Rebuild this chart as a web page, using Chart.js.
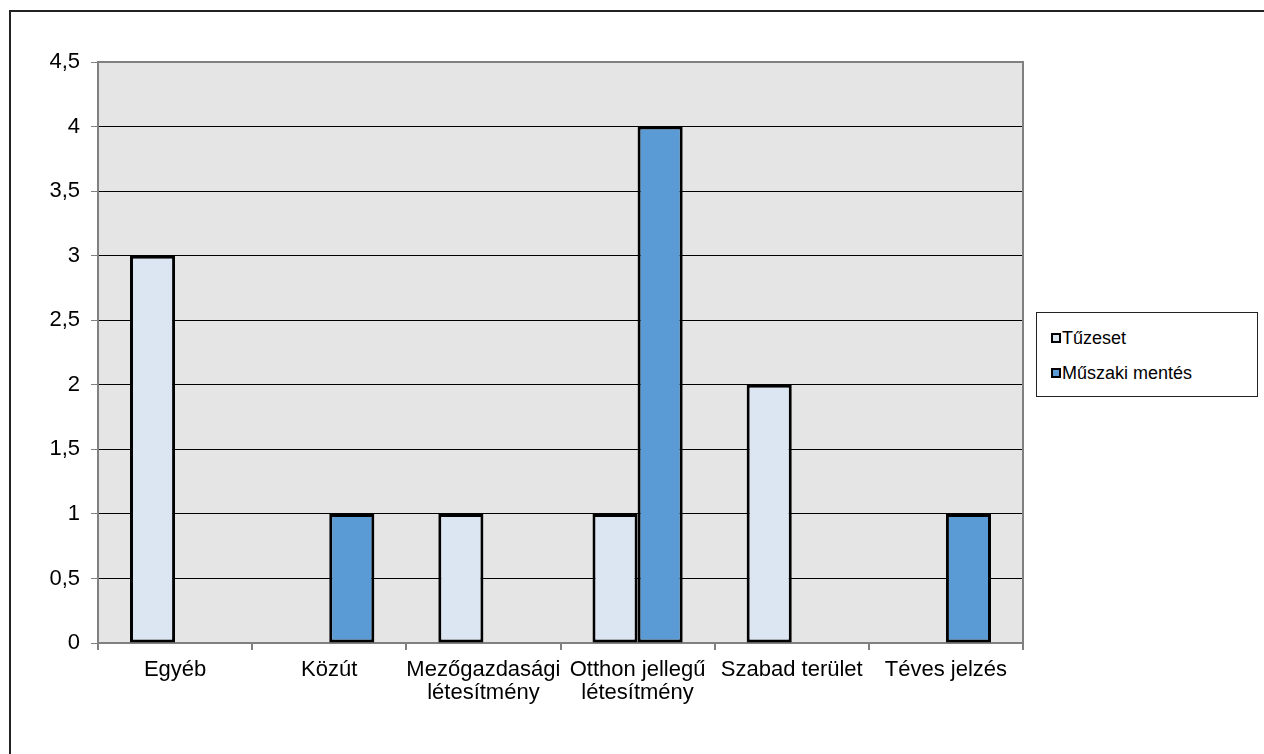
<!DOCTYPE html>
<html>
<head>
<meta charset="utf-8">
<script src="https://cdn.jsdelivr.net/npm/chart.js@4/dist/chart.umd.min.js"></script>
<style>
  body { margin: 0; background: #fff; }
  #wrap { position: relative; width: 1264px; height: 754px; overflow: hidden; }
  #frame { position: absolute; left: 9px; top: 10px; width: 1300px; height: 800px; border-left: 2px solid #222; border-top: 2px solid #222; box-sizing: border-box; }
  #legend { position: absolute; left: 1036px; top: 312px; width: 222px; height: 85px; border: 1px solid #222; box-sizing: border-box; font-family: "Liberation Sans", Arial, sans-serif; font-size: 18px; color: #000; background: #fff; }
  .item { position: absolute; left: 14px; display: flex; align-items: center; line-height: 20px; }
  .sw { width: 6px; height: 6px; border: 2px solid #000; margin-right: 1px; }
</style>
</head>
<body>
<div id="wrap">
  <canvas id="chart" width="1264" height="754"></canvas>
  <div id="frame"></div>
  <div id="legend"></div>
</div>
<script>
// adatok
var categories = ["Egyéb", "Közút", ["Mezőgazdasági", "létesítmény"], ["Otthon jellegű", "létesítmény"], "Szabad terület", "Téves jelzés"];
var tuzeset = [3, null, 1, 1, 2, null];
var muszaki = [null, 1, null, 4, null, 1];
var seriesNames = ["Tűzeset", "Műszaki mentés"];
var seriesColors = ["#dce6f2", "#5b9bd5"];

// szürke háttér + felső/jobb keret
var plotBg = {
    id: 'plotBg',
    beforeDraw: function (chart) {
        var a = chart.chartArea, ctx = chart.ctx;
        ctx.save();
        ctx.fillStyle = '#e5e5e5';
        ctx.fillRect(a.left, a.top, a.right - a.left, a.bottom - a.top);
        ctx.restore();
    },
    afterDraw: function (chart) {
        var a = chart.chartArea, ctx = chart.ctx;
        ctx.save();
        ctx.strokeStyle = '#808080';
        ctx.lineWidth = 2;
        ctx.beginPath();
        ctx.moveTo(a.left, a.top);
        ctx.lineTo(a.right, a.top);
        ctx.lineTo(a.right, a.bottom + 6);
        ctx.stroke();
        ctx.restore();
    }
};

var ctx = document.getElementById('chart');
var chart = new Chart(ctx, {
    type: 'bar',
    data: {
        labels: categories,
        datasets: [{
            label: seriesNames[0],
            data: tuzeset,
            backgroundColor: seriesColors[0],
            borderColor: '#000',
            borderWidth: 3,
            borderSkipped: false
        }, {
            label: seriesNames[1],
            data: muszaki,
            backgroundColor: seriesColors[1],
            borderColor: '#000',
            borderWidth: 3,
            borderSkipped: false
        }]
    },
    options: {
        responsive: false,
        animation: false,
        layout: { padding: { left: 0, right: 241, top: 62, bottom: 0 } },
        plugins: { legend: { display: false }, tooltip: { enabled: false } },
        datasets: { bar: { barPercentage: 1, categoryPercentage: 0.585 } },
        scales: {
            x: {
                afterFit: function (s) { s.height = 111; },
                grid: { offset: true, drawOnChartArea: false, drawTicks: true, tickLength: 7, color: '#808080', lineWidth: 2 },
                border: { color: '#808080', width: 2 },
                ticks: { color: '#000', font: { family: 'Liberation Sans', size: 22, lineHeight: 1.05 }, padding: 8, maxRotation: 0, autoSkip: false }
            },
            y: {
                min: 0,
                max: 4.5,
                afterFit: function (s) { s.width = 98; },
                grid: { color: '#000', lineWidth: 1, tickLength: 7, tickColor: '#808080' },
                border: { color: '#808080', width: 2 },
                ticks: {
                    stepSize: 0.5,
                    color: '#000',
                    padding: 11,
                    font: { family: 'Liberation Sans', size: 22 },
                    callback: function (v) { return String(v).replace('.', ','); }
                }
            }
        }
    },
    plugins: [plotBg]
});

// jelmagyarázat
var leg = document.getElementById('legend');
seriesNames.forEach(function (name, i) {
    var d = document.createElement('div');
    d.className = 'item';
    d.style.top = (i === 0 ? 15 : 50) + 'px';
    d.innerHTML = '<span class="sw" style="background:' + seriesColors[i] + '"></span>' + name;
    leg.appendChild(d);
});
</script>
</body>
</html>
